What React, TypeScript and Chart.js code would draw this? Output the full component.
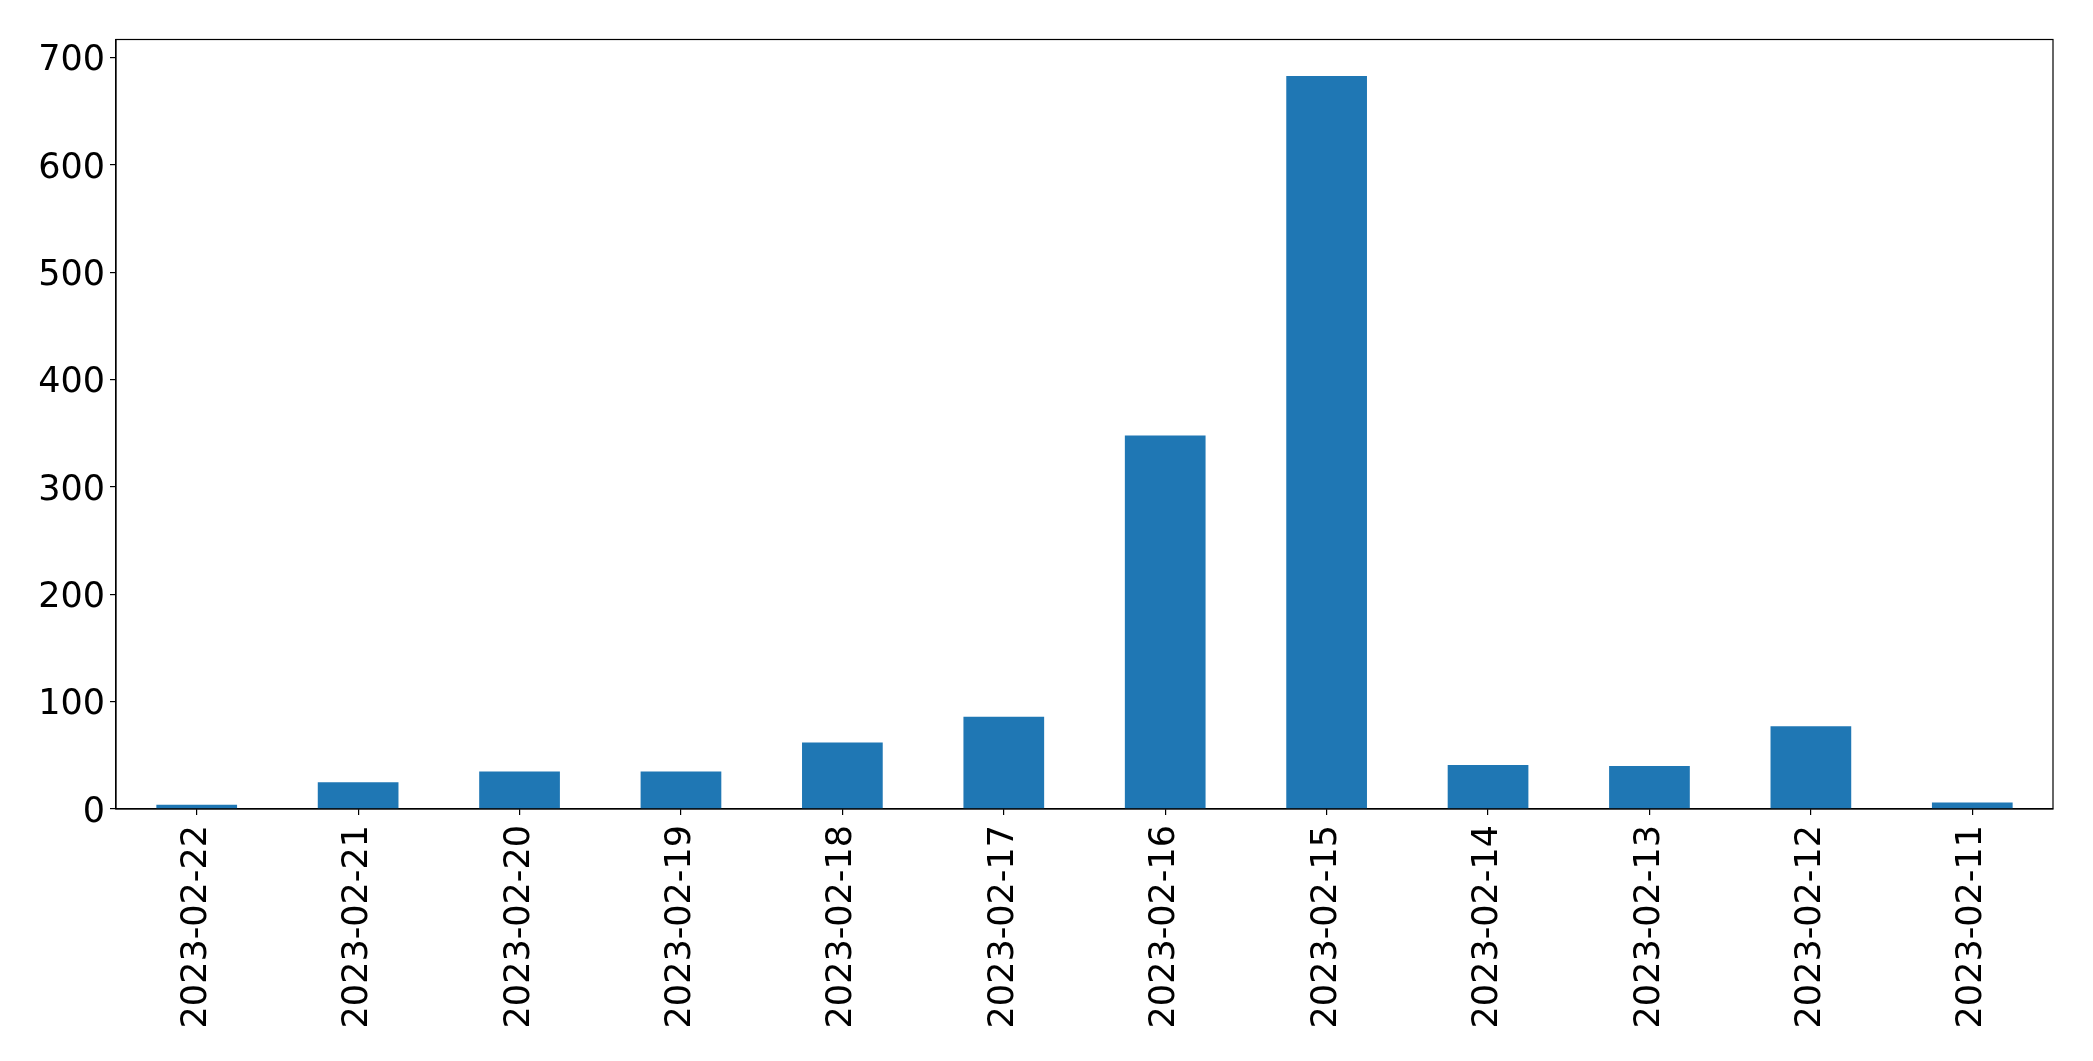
import React, { useEffect, useRef } from "react";
import { Chart, registerables } from "chart.js";

Chart.register(...registerables);

const categories: string[] = [
  "2023-02-22", "2023-02-21", "2023-02-20", "2023-02-19", "2023-02-18", "2023-02-17",
  "2023-02-16", "2023-02-15", "2023-02-14", "2023-02-13", "2023-02-12", "2023-02-11",
];
const counts: number[] = [4, 25, 35, 35, 62, 86, 348, 683, 41, 40, 77, 6];
const yTickStep = 100;
const yMax = 717;

const W = 2093;
const H = 1061;
const FONT = "'DejaVu Sans', sans-serif";
const FONT_SIZE = 35;

const boxPlugin = {
  id: "boxSpines",
  afterDraw(chart: any) {
    const { ctx, chartArea } = chart;
    ctx.save();
    ctx.strokeStyle = "#000";
    ctx.lineWidth = 1.2;
    ctx.strokeRect(chartArea.left, chartArea.top, chartArea.right - chartArea.left, chartArea.bottom - chartArea.top);
    // y tick labels, vertically centred on the glyphs like matplotlib
    const y = chart.scales.y;
    ctx.fillStyle = "#000";
    ctx.font = `${FONT_SIZE}px ${FONT}`;
    ctx.textAlign = "right";
    ctx.textBaseline = "alphabetic";
    for (const t of y.ticks) {
      const py = y.getPixelForValue(t.value);
      ctx.fillText(String(t.value), chartArea.left - 11, py + FONT_SIZE * 0.364);
    }
    ctx.restore();
  },
};

export default function App() {
  const ref = useRef<HTMLCanvasElement | null>(null);
  useEffect(() => {
    if (!ref.current) return;
    const chart = new Chart(ref.current, {
      type: "bar",
      data: {
        labels: categories,
        datasets: [
          {
            data: counts,
            backgroundColor: "#1f77b4",
            borderWidth: 0,
            categoryPercentage: 1,
            barPercentage: 0.5,
          },
        ],
      },
      options: {
        responsive: false,
        animation: false,
        devicePixelRatio: 1,
        layout: { padding: { left: 0, right: 40, top: 39.5, bottom: 0 } },
        plugins: { legend: { display: false }, tooltip: { enabled: false } },
        scales: {
          x: {
            offset: true,
            grid: { display: true, drawOnChartArea: false, color: "#000", lineWidth: 1.2, tickLength: 6, offset: false },
            border: { display: true, color: "#000", width: 1.2 },
            ticks: {
              color: "#000",
              font: { family: FONT, size: FONT_SIZE },
              minRotation: 90,
              maxRotation: 90,
              padding: 10,
              autoSkip: false,
            },
            afterFit(scale: any) {
              scale.height = H - 809;
            },
          },
          y: {
            min: 0,
            max: yMax,
            grid: { display: true, drawOnChartArea: false, color: "#000", lineWidth: 1.2, tickLength: 6 },
            border: { display: true, color: "#000", width: 1.2 },
            ticks: {
              display: false,
              stepSize: yTickStep,
              includeBounds: false,
            },
            afterFit(scale: any) {
              scale.width = 116;
            },
          },
        },
      },
      plugins: [boxPlugin],
    });
    return () => chart.destroy();
  }, []);
  return (
    <div style={{ position: "fixed", left: 0, top: 0, width: W, height: H, background: "#fff" }}>
      <canvas ref={ref} width={W} height={H} style={{ width: W, height: H, display: "block" }} />
    </div>
  );
}
